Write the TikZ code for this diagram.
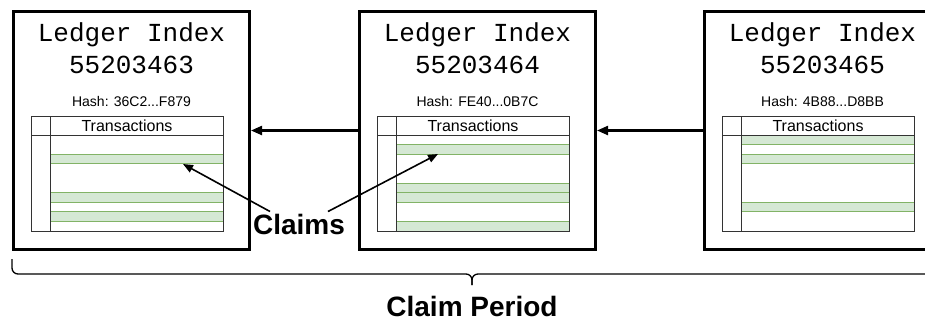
\documentclass[tikz,border=0pt]{standalone}
\usepackage{fontspec}
\setmainfont{Liberation Sans}
\setmonofont{Liberation Mono}
\usetikzlibrary{arrows.meta, calc, positioning}
\definecolor{claimfill}{HTML}{D5E8D4}
\definecolor{claimline}{HTML}{82B366}

\tikzset{
  ledger/.style={draw, line width=3pt, fill=white, anchor=north west, inner sep=0pt,
                 minimum width=236pt, minimum height=238pt},
  ledgertitle/.style={inner sep=0pt, align=center, font=\ttfamily\fontsize{26}{32}\selectfont},
  hashlbl/.style={inner sep=0pt, font=\fontsize{14}{16}\selectfont},
  txline/.style={draw=black!80, line width=0.8pt},
  claimrow/.style={fill=claimfill, draw=claimline, line width=0.8pt},
  txhead/.style={inner sep=0pt, anchor=base, font=\fontsize{16}{18}\selectfont},
  link/.style={-{Triangle[length=11pt, width=9pt]}, line width=2.2pt},
  pointer/.style={-{Triangle[length=10pt, width=8pt]}, line width=1.6pt},
  biglbl/.style={inner sep=2pt, font=\bfseries\fontsize{28}{32}\selectfont}
}

% one ledger block: name, left x, index, hash, claim rows
\newcommand{\ledgerblock}[5]{%
  \node[ledger] (#1) at (#2,10) {};
  \node[ledgertitle, below=12pt of #1.north] (#1-idx) {Ledger Index\\#3};
  \node[hashlbl, below=23pt of #1-idx] (#1-hash) {Hash: #4};
  \begin{scope}[shift={(#2+19,116)}]
    \foreach \r in {#5}
      \draw[claimrow] (19,19+9.6*\r) rectangle (192,28.6+9.6*\r);
    \draw[txline] (0,0) rectangle (192,115);
    \draw[txline] (0,19) -- (192,19);
    \draw[txline] (19,0) -- (19,115);
    \node[txhead] (#1-head) at (96,15) {Transactions};
  \end{scope}
}

\begin{document}
\begin{tikzpicture}[x=1pt, y=-1pt]
\useasboundingbox (0,0) rectangle (925,322);
% Ledgers
\ledgerblock{led1}{12}{55203463}{36C2...F879}{2,6,8}
\ledgerblock{led2}{358}{55203464}{FE40...0B7C}{1,5,6,9}
\ledgerblock{led3}{703}{55203465}{4B88...D8BB}{0,2,7}
% Chain links
\draw[link] (led2.west) -- (led1.east);
\draw[link] (led3.west) -- (led2.east);
% Claims
\node[biglbl, anchor=base] (claims) at (299,234) {Claims};
\coordinate (claimA) at (183,164);
\coordinate (claimB) at (438,154);
\draw[pointer] ($(claims.north)+(-29,0)$) -- (claimA);
\draw[pointer] ($(claims.north)+(29,0)$) -- (claimB);
% Period brace
\coordinate (braceL) at (12,259);
\coordinate (braceR) at (932,259);
\coordinate (braceMid) at (472,274);
\coordinate (braceTip) at (472,285);
\draw[line width=1.3pt, rounded corners=6pt] (braceL) |- (braceMid) -- (braceTip);
\draw[line width=1.3pt, rounded corners=6pt] (braceR) |- (braceMid) -- (braceTip);
\node[biglbl, anchor=base] (period) at (472,316) {Claim Period};
\end{tikzpicture}
\end{document}
